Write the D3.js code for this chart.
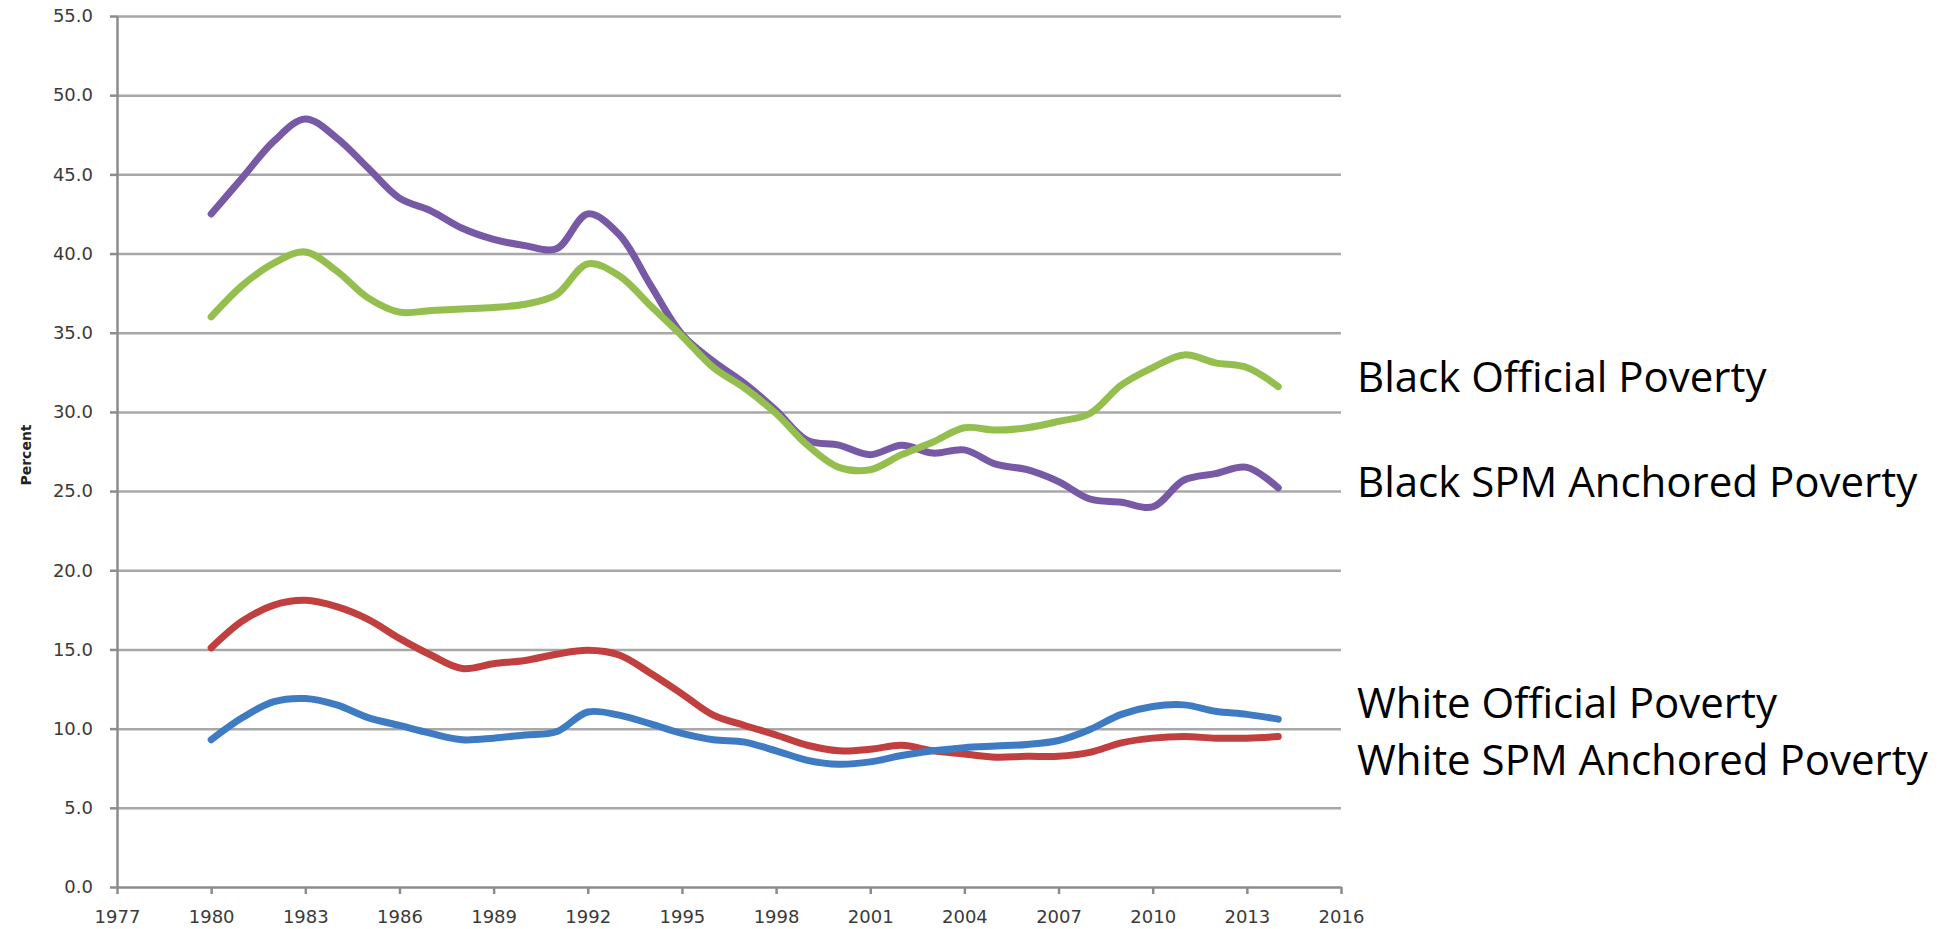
<!DOCTYPE html>
<html lang="en">
<head>
<meta charset="UTF-8">
<title>Poverty rates by race</title>
<script src="https://d3js.org/d3.v7.min.js"></script>
<style>
  body { margin: 0; background: #fff; }
  .tick text { font-family: "DejaVu Sans", Verdana, sans-serif; font-size: 18px; fill: #3a3a3a; }
  .label { font-family: "Open Sans", "Noto Sans", sans-serif; font-size: 42px; fill: #000; }
</style>
</head>
<body>
<svg width="1952" height="929"></svg>
<script>
// data
const years = d3.range(1980, 2015);
const blackSpm = [42.5, 44.8, 47.1, 48.5, 47.3, 45.4, 43.5, 42.7, 41.6, 40.9, 40.5, 40.3, 42.5, 41.2, 38.0,
  34.9, 33.2, 31.8, 30.1, 28.2, 27.9, 27.3, 27.9, 27.4, 27.6, 26.7, 26.35, 25.6, 24.5, 24.3, 24.0, 25.7, 26.1, 26.5, 25.2];
const blackOfficial = [36.0, 38.0, 39.4, 40.1, 38.9, 37.2, 36.3, 36.4, 36.5, 36.6, 36.8, 37.4, 39.35, 38.6, 36.7,
  34.8, 32.8, 31.5, 29.9, 27.9, 26.5, 26.35, 27.3, 28.1, 29.0, 28.85, 29.0, 29.4, 29.9, 31.7, 32.8, 33.6, 33.1, 32.8, 31.6];
const whiteSpm = [15.1, 16.8, 17.8, 18.1, 17.7, 16.9, 15.7, 14.65, 13.8, 14.1, 14.3, 14.7, 14.95, 14.65, 13.5,
  12.2, 10.85, 10.2, 9.6, 8.95, 8.6, 8.7, 8.95, 8.6, 8.4, 8.2, 8.25, 8.25, 8.5, 9.1, 9.4, 9.5, 9.4, 9.4, 9.5];
const whiteOfficial = [9.3, 10.7, 11.7, 11.9, 11.5, 10.7, 10.2, 9.7, 9.3, 9.4, 9.6, 9.8, 11.05, 10.85, 10.3,
  9.7, 9.3, 9.15, 8.6, 8.0, 7.75, 7.9, 8.3, 8.6, 8.8, 8.9, 9.0, 9.25, 9.95, 10.9, 11.4, 11.5, 11.1, 10.9, 10.6];
const xTicks = d3.range(1977, 2017, 3);
const yTicks = d3.range(0, 56, 5);
const labels = ["Black Official Poverty", "Black SPM Anchored Poverty", "White Official Poverty", "White SPM Anchored Poverty"];
const labelY = [392, 497, 718, 775];

const series = [
  { name: "Black SPM Anchored Poverty", values: blackSpm, color: "#7759a6" },
  { name: "Black Official Poverty", values: blackOfficial, color: "#94bf4f" },
  { name: "White SPM Anchored Poverty", values: whiteSpm, color: "#c13f3e" },
  { name: "White Official Poverty", values: whiteOfficial, color: "#3f7bc2" }
];

const plotLeft = 117, plotRight = 1341, plotTop = 16, plotBottom = 887;
const svg = d3.select("svg");

const x = d3.scaleLinear().domain([1977, 2016]).range([plotLeft, plotRight]);
const y = d3.scaleLinear().domain([0, 55]).range([plotBottom, plotTop]);

// grid
svg.append("g")
  .attr("transform", `translate(${plotLeft},0)`)
  .call(d3.axisLeft(y).tickValues(yTicks.slice(1)).tickSize(-(plotRight - plotLeft)).tickFormat(""))
  .call(g => g.select(".domain").remove())
  .call(g => g.selectAll("line").attr("stroke", "#a8a8a8").attr("stroke-width", 2.5));

// y axis
svg.append("g")
  .attr("transform", `translate(${plotLeft},0)`)
  .call(d3.axisLeft(y).tickValues(yTicks).tickFormat(d3.format(".1f")).tickSize(7).tickSizeOuter(0).tickPadding(17))
  .call(g => g.selectAll("line, path").attr("stroke", "#8c8c8c").attr("stroke-width", 2.5));

// x axis
svg.append("g")
  .attr("transform", `translate(0,${plotBottom})`)
  .call(d3.axisBottom(x).tickValues(xTicks).tickFormat(d3.format("d")).tickSize(7).tickSizeOuter(0).tickPadding(16))
  .call(g => g.selectAll("line, path").attr("stroke", "#8c8c8c").attr("stroke-width", 2.5));

svg.append("text")
  .attr("transform", "translate(31,455) rotate(-90)")
  .attr("text-anchor", "middle")
  .attr("font-family", "DejaVu Sans, sans-serif")
  .attr("font-weight", "bold")
  .attr("font-size", 14)
  .attr("fill", "#222")
  .text("Percent");

// lines
const line = d3.line()
  .x((d, i) => x(years[i]))
  .y(d => y(d))
  .curve(d3.curveCatmullRom.alpha(0.5));

svg.selectAll(".series")
  .data(series)
  .enter().append("path")
  .attr("class", "series")
  .attr("fill", "none")
  .attr("stroke", d => d.color)
  .attr("stroke-width", 7)
  .attr("stroke-linecap", "round")
  .attr("stroke-linejoin", "round")
  .attr("d", d => line(d.values));

// right side labels
svg.selectAll(".label")
  .data(labels)
  .enter().append("text")
  .attr("class", "label")
  .attr("x", 1357)
  .attr("y", (d, i) => labelY[i])
  .text(d => d);
</script>
</body>
</html>
